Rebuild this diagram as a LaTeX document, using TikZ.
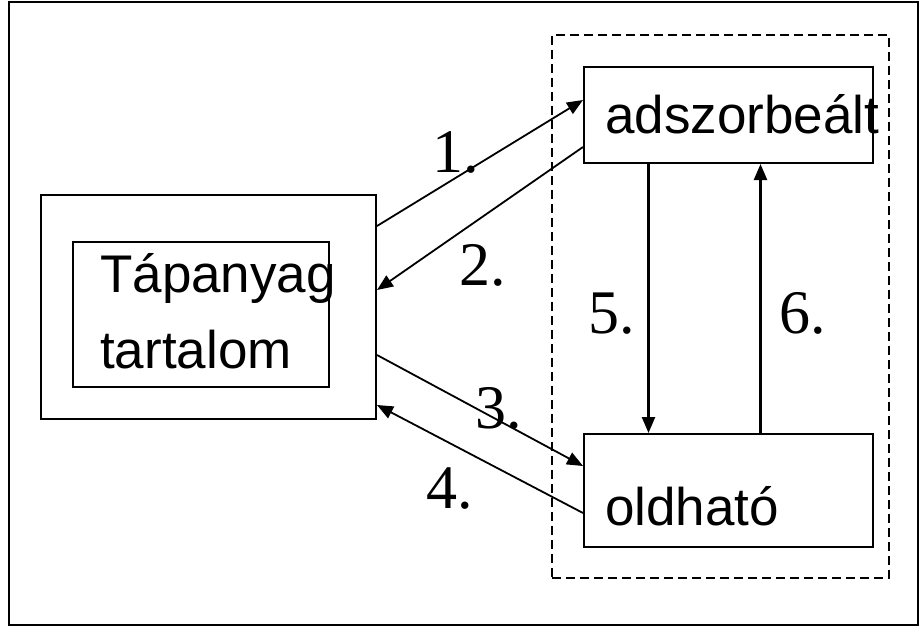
\documentclass[tikz,border=0pt]{standalone}
\usepackage{fontspec}
\setmainfont{Liberation Sans}
\newfontfamily\numfont{Liberation Serif}
\usetikzlibrary{arrows.meta}
\begin{document}
\begin{tikzpicture}[x=1pt,y=-1pt,
  box/.style={draw,line width=2pt,rectangle,inner sep=0pt},
  lbl/.style={anchor=base west,inner sep=0pt,font=\fontsize{53}{60}\selectfont},
  num/.style={anchor=base west,inner sep=0pt,font=\numfont\fontsize{62}{70}\selectfont},
  arr/.style={line width=1.8pt,-{Triangle[length=16pt,width=13pt]}},
  varr/.style={line width=2.4pt,-{Triangle[length=16pt,width=13pt]}}]
\useasboundingbox (0,0) rectangle (921,627);
\fill[white] (0,0) rectangle (921,627);
\draw[line width=1.8pt] (9,2) rectangle (918,625);
% boxes
\node[box,minimum width=335pt,minimum height=224pt] (outer) at (208.5,307) {};
\node[box,minimum width=256pt,minimum height=145pt] (inner) at (201,314.5) {};
\node[draw,line width=1.8pt,dash pattern=on 9pt off 5pt,minimum width=337pt,minimum height=543pt,inner sep=0pt] (dbox) at (720.5,306.5) {};
\node[box,minimum width=289pt,minimum height=96pt] (ads) at (728.5,115) {};
\node[box,minimum width=289pt,minimum height=113pt] (old) at (728.5,490.5) {};
% texts
\node[lbl] (t1) at (100,292) {Tápanyag};
\node[lbl] (t2) at (100,368) {tartalom};
\node[lbl] (t3) at (605,133) {adszorbeált};
\node[lbl] (t4) at (605,525) {oldható};
% numbers
\node[num] (n1) at (432,172) {1.};
\node[num] (n2) at (459,285) {2.};
\node[num] (n3) at (475,428) {3.};
\node[num] (n4) at (426,508) {4.};
\node[num] (n5) at (588,333) {5.};
\node[num] (n6) at (779,333) {6.};
% connectors
\draw[arr] ([yshift=81pt]outer.east) -- ([yshift=15pt]ads.west);
\draw[arr] ([yshift=-32pt]ads.west) -- ([yshift=17pt]outer.east);
\draw[arr] ([yshift=-48pt]outer.east) -- ([yshift=24.5pt]old.west);
\draw[arr] ([yshift=-22.5pt]old.west) -- ([yshift=-98pt]outer.east);
\draw[varr] ([xshift=-80pt]ads.south) -- ([xshift=-80pt]old.north);
\draw[varr] ([xshift=32pt]old.north) -- ([xshift=32pt]ads.south);
\end{tikzpicture}
\end{document}
